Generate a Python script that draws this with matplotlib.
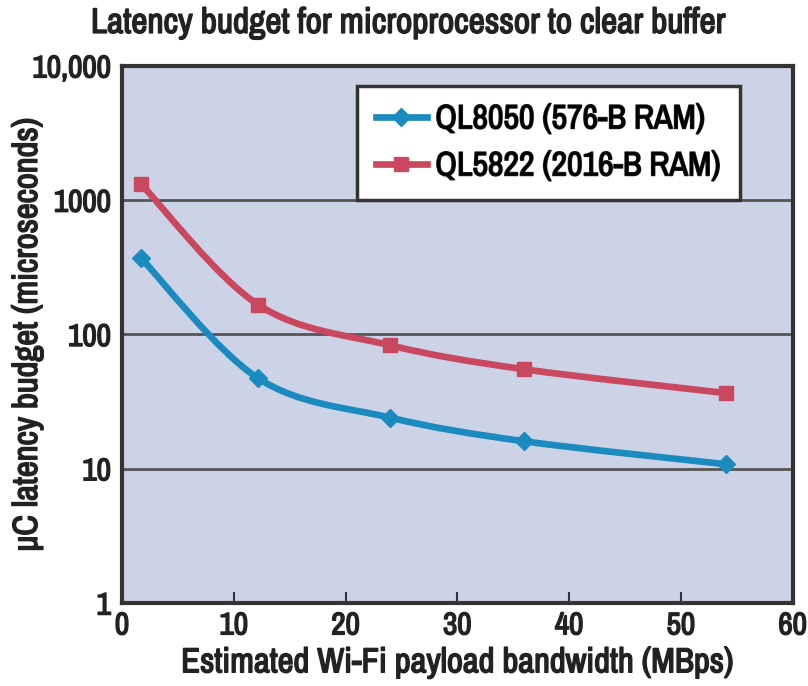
import numpy as np
import matplotlib
matplotlib.use('Agg')
from matplotlib import pyplot as plt
from matplotlib import font_manager as fm
from matplotlib import patheffects as pe
from matplotlib.text import Text
from matplotlib.path import Path
from matplotlib.patches import PathPatch
from matplotlib.lines import Line2D
from matplotlib.ticker import FixedLocator, FixedFormatter, NullLocator

# look for a narrow / condensed face, the original uses a condensed bold grotesque
narrow = [f.name for f in fm.fontManager.ttflist if 'Narrow' in f.name or 'Condensed' in f.name]
cond = [f.name for f in fm.fontManager.ttflist if f.stretch in ('condensed', 'semi-condensed', 600, 700)]
scale = 1.0
if narrow:
    plt.rcParams['font.family'] = [narrow[0], 'DejaVu Sans']
elif cond:
    plt.rcParams['font.family'] = [cond[0], 'DejaVu Sans']
    plt.rcParams['font.stretch'] = 'condensed'
else:
    plt.rcParams['font.family'] = ['DejaVu Sans']
    scale = 0.8
plt.rcParams['font.weight'] = 'bold'

fs_title = 25.5 * scale
fs_label = 25 * scale
fs_tick = 22.5 * scale
fs_leg = 24.5 * scale

# data
bandwidth = [1.7, 12.2, 24, 36, 54]
ql8050 = [370, 47, 24, 16, 10.8]
ql5822 = [1320, 166, 83, 55, 36.6]
labels = ['QL8050 (576-B RAM)', 'QL5822 (2016-B RAM)']
yticks = [1, 10, 100, 1000, 10000]
yticklabels = ['1', '10', '100', '1000', '10,000']

blue = '#1b8bbf'
red = '#c9485f'
bg = '#cdd3e6'
dark = '#333333'
txt = '#222222'


def smooth_path(x, y):
    # catmull-rom through the points, done in (x, log y) and turned into bezier controls
    lx = np.array(x, float)
    ly = np.log10(np.array(y, float))
    verts = [(lx[0], ly[0])]
    codes = [Path.MOVETO]
    n = len(lx)
    for i in range(n - 1):
        p0 = (lx[max(i - 1, 0)], ly[max(i - 1, 0)])
        p1 = (lx[i], ly[i])
        p2 = (lx[i + 1], ly[i + 1])
        p3 = (lx[min(i + 2, n - 1)], ly[min(i + 2, n - 1)])
        c1 = (p1[0] + (p2[0] - p0[0]) / 6, p1[1] + (p2[1] - p0[1]) / 6)
        c2 = (p2[0] - (p3[0] - p1[0]) / 6, p2[1] - (p3[1] - p1[1]) / 6)
        verts += [c1, c2, p2]
        codes += [Path.CURVE4] * 3
    verts = [(vx, 10 ** vy) for vx, vy in verts]
    return Path(verts, codes)


fig = plt.figure(figsize=(8.08, 6.86), dpi=100)
ax = fig.add_axes([0.151, 0.121, 0.830, 0.783])
ax.set_facecolor(bg)
ax.set_yscale('log')
ax.set_xlim(0, 60)
ax.set_ylim(1, 10000)

for v in [10, 100, 1000]:
    ax.axhline(v, color='#555555', lw=2, zorder=1)

for xs, ys, c, m, ms in [(bandwidth, ql8050, blue, 'D', 9), (bandwidth, ql5822, red, 's', 10)]:
    ax.add_patch(PathPatch(smooth_path(xs, ys), fill=False, edgecolor=c, lw=4.8, zorder=3))
    ax.plot(xs, ys, ls='none', marker=m, ms=ms, color=c, zorder=4)

ax.yaxis.set_major_locator(FixedLocator(yticks))
ax.yaxis.set_major_formatter(FixedFormatter(yticklabels))
ax.yaxis.set_minor_locator(NullLocator())
ax.set_xticks(range(0, 61, 10))
ax.tick_params(axis='y', length=0, labelsize=fs_tick, pad=8, colors=txt)
ax.tick_params(axis='x', direction='in', length=8, width=1.5, color=dark, labelsize=fs_tick, pad=6,
               labelcolor=txt)
for s in ax.spines.values():
    s.set_linewidth(3)
    s.set_color(dark)

ax.set_xlabel('Estimated Wi-Fi payload bandwidth (MBps)', fontsize=fs_label, color=txt, labelpad=5)
ax.set_ylabel('\u03bcC latency budget (microseconds)', fontsize=fs_label, color=txt)
ax.yaxis.set_label_coords(-0.118, 0.5)
fig.suptitle('Latency budget for microprocessor to clear buffer', fontsize=fs_title, color=txt,
             fontweight='bold', x=0.505, y=0.99)

handles = [Line2D([], [], color=blue, lw=4.8, marker='D', ms=9),
           Line2D([], [], color=red, lw=4.8, marker='s', ms=10)]
leg = ax.legend(handles, labels, loc='upper right', bbox_to_anchor=(0.921, 0.963), fontsize=fs_leg,
                fancybox=False, framealpha=1, edgecolor=dark, handlelength=1.5,
                borderpad=0.55, labelspacing=0.5, handletextpad=0.25, borderaxespad=0)
leg.get_frame().set_linewidth(2.5)

# the faces found have no heavy weight, so thicken the glyphs a little
fig.canvas.draw()
for t in fig.findobj(Text):
    if t.get_text():
        t.set_path_effects([pe.withStroke(linewidth=1.1, foreground=txt)])

plt.savefig('out.png', dpi=100)
